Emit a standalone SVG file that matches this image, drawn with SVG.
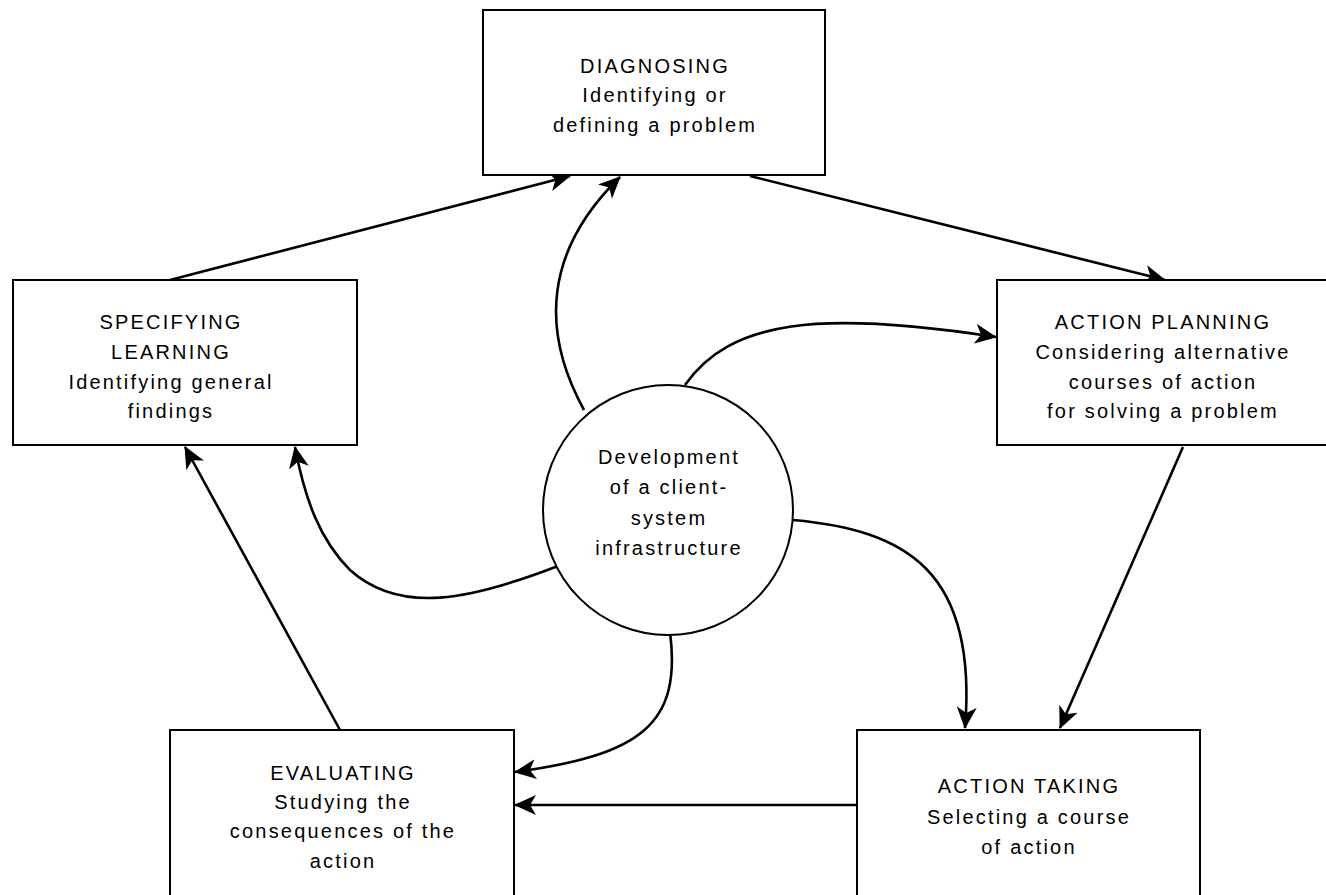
<svg xmlns="http://www.w3.org/2000/svg" width="1326" height="895" viewBox="0 0 1326 895">
<style>
.box{fill:#fff;stroke:#000;stroke-width:2}
.t{font-family:"Liberation Sans",Arial,sans-serif;font-size:20px;fill:#000;text-anchor:middle;letter-spacing:2.2px}
.c{fill:none;stroke:#000;stroke-width:2.6;marker-end:url(#ah)}
</style>
<defs>
<marker id="ah" markerUnits="userSpaceOnUse" markerWidth="24" markerHeight="20" refX="21" refY="10" orient="auto">
<path d="M0,0 L22,10 L0,20 L6,10 z" fill="#000"/>
</marker>
</defs>
<rect width="1326" height="895" fill="#fff"/>
<g id="connectors">
<path class="c" d="M170,280 L570,176"/>
<path class="c" d="M584,410 C540,330 545,250 620,177"/>
<path class="c" d="M750,176 L1165,280"/>
<path class="c" d="M685,385 C730,320 820,310 996,337"/>
<path class="c" d="M1183,447 L1060,728"/>
<path class="c" d="M793,520 C905,530 978,570 965,728"/>
<path class="c" d="M857,805 L515,805"/>
<path class="c" d="M670,632 C682,725 640,755 515,772"/>
<path class="c" d="M340,730 L185,447"/>
<path class="c" d="M558,566 C470,600 400,615 350,570 C320,540 305,500 295,447"/>
</g>
<g id="diagnosing">
<rect class="box" x="483" y="10" width="342" height="165"/>
<text class="t" x="655" y="73">DIAGNOSING</text>
<text class="t" x="655" y="102">Identifying or</text>
<text class="t" x="655" y="132">defining a problem</text>
</g>
<g id="specifying">
<rect class="box" x="13" y="280" width="344" height="165"/>
<text class="t" x="171" y="329">SPECIFYING</text>
<text class="t" x="171" y="359">LEARNING</text>
<text class="t" x="171" y="389">Identifying general</text>
<text class="t" x="171" y="418">findings</text>
</g>
<g id="planning">
<rect class="box" x="997" y="280" width="335" height="165"/>
<text class="t" x="1163" y="329">ACTION PLANNING</text>
<text class="t" x="1163" y="359">Considering alternative</text>
<text class="t" x="1163" y="389">courses of action</text>
<text class="t" x="1163" y="418">for solving a problem</text>
</g>
<g id="evaluating">
<rect class="box" x="170" y="730" width="344" height="175"/>
<text class="t" x="343" y="780">EVALUATING</text>
<text class="t" x="343" y="809">Studying the</text>
<text class="t" x="343" y="838">consequences of the</text>
<text class="t" x="343" y="868">action</text>
</g>
<g id="taking">
<rect class="box" x="857" y="730" width="343" height="175"/>
<text class="t" x="1029" y="793">ACTION TAKING</text>
<text class="t" x="1029" y="824">Selecting a course</text>
<text class="t" x="1029" y="854">of action</text>
</g>
<g id="center">
<circle cx="668" cy="510" r="125" fill="#fff" stroke="#000" stroke-width="2"/>
<text class="t" x="669" y="464">Development</text>
<text class="t" x="669" y="494">of a client-</text>
<text class="t" x="669" y="525">system</text>
<text class="t" x="669" y="555">infrastructure</text>
</g>
</svg>
